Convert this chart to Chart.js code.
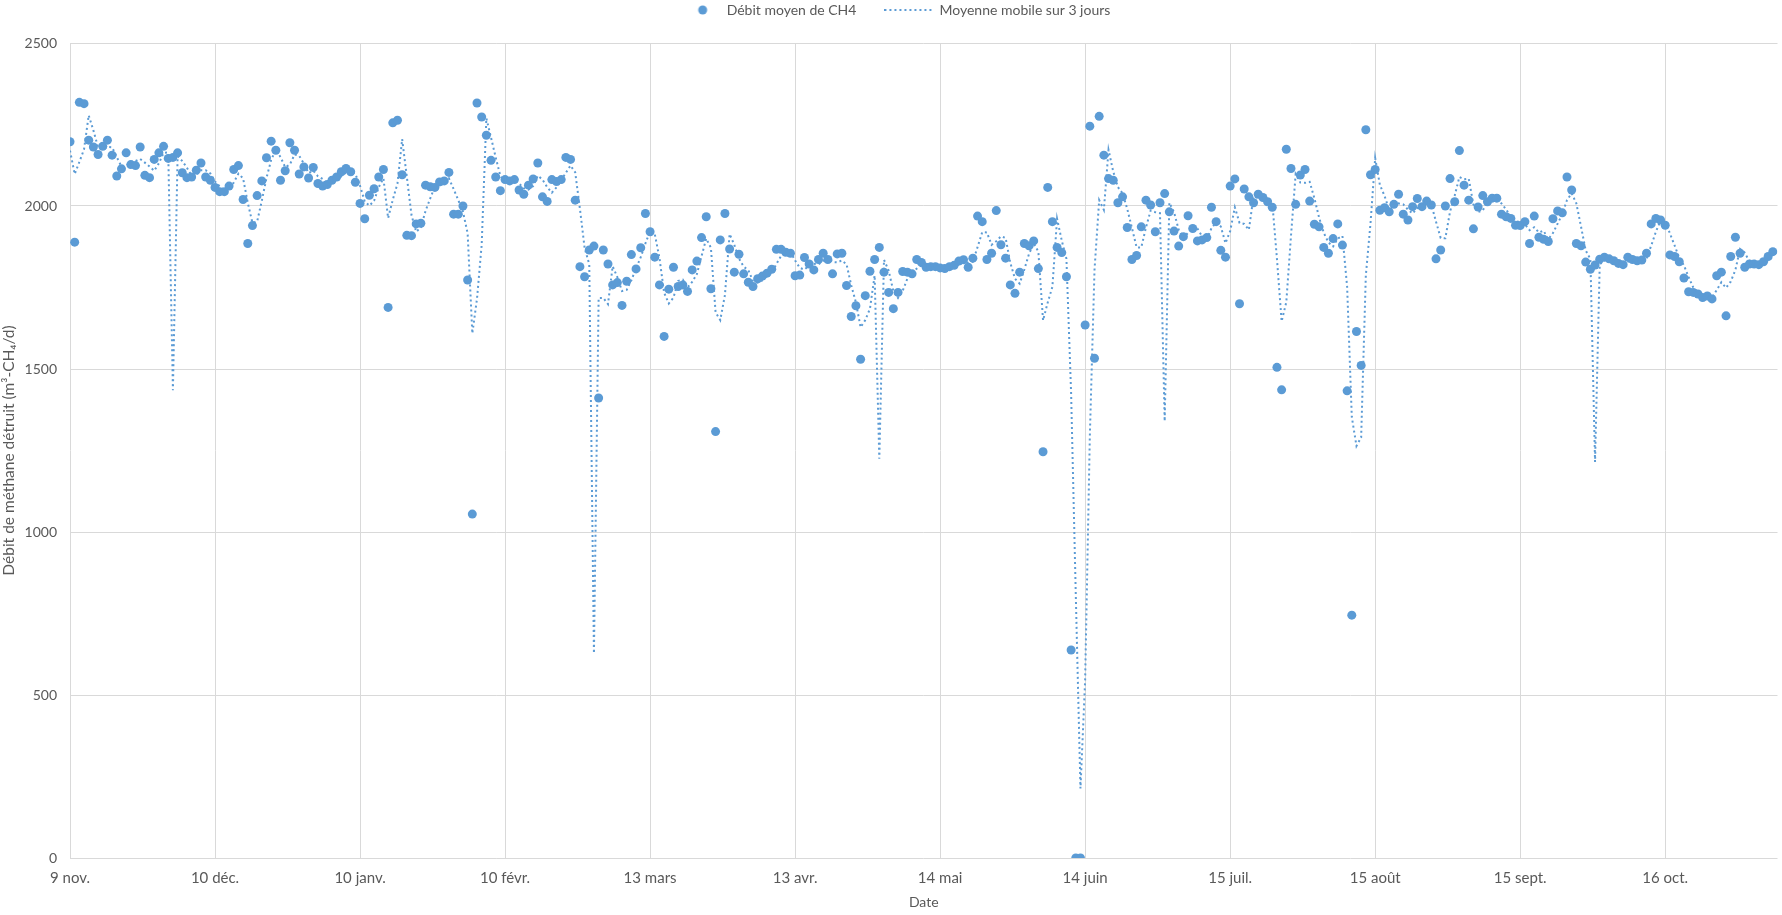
<!DOCTYPE html>
<html>
<head>
<meta charset="utf-8">
<script src="https://cdn.jsdelivr.net/npm/chart.js@4.4.1/dist/chart.umd.min.js"></script>
<style>
html,body{margin:0;padding:0;background:#ffffff;}
canvas{display:block;}
</style>
</head>
<body>
<canvas id="chart" width="1782" height="915"></canvas>
<script>
// ---- Data (one value per day, day 0 = 9 nov.) ----
const tickDays = [0, 31, 62, 93, 124, 155, 186, 217, 248, 279, 310, 341];
const tickLabels = ['9 nov.', '10 déc.', '10 janv.', '10 févr.', '13 mars', '13 avr.', '14 mai', '14 juin', '15 juil.', '15 août', '15 sept.', '16 oct.'];
const seriesLabels = ['Débit moyen de CH4', 'Moyenne mobile sur 3 jours'];

const flowValues = [
  2197,1889,2318,2314,2202,2181,2158,2183,2202,2156,
  2092,2114,2163,2127,2124,2181,2094,2087,2143,2163,
  2183,2146,2149,2163,2102,2087,2089,2110,2132,2089,
  2079,2057,2044,2044,2061,2112,2124,2020,1885,1940,
  2032,2077,2148,2199,2171,2079,2108,2194,2171,2098,
  2120,2086,2118,2069,2061,2066,2079,2089,2105,2115,
  2105,2073,2008,1961,2033,2053,2089,2112,1689,2255,
  2263,2096,1910,1909,1945,1947,2064,2059,2057,2074,
  2077,2103,1975,1975,2000,1773,1055,2316,2273,2217,
  2140,2089,2047,2081,2077,2081,2049,2036,2064,2083,
  2132,2028,2014,2081,2075,2081,2149,2143,2018,1814,
  1783,1865,1877,1411,1865,1822,1758,1765,1695,1769,
  1851,1807,1872,1977,1921,1843,1758,1600,1745,1812,
  1753,1758,1738,1804,1831,1903,1967,1746,1308,1896,
  1977,1868,1797,1852,1792,1766,1753,1777,1785,1794,
  1806,1867,1867,1858,1855,1786,1788,1842,1822,1804,
  1836,1855,1836,1792,1853,1855,1756,1661,1694,1530,
  1725,1800,1836,1873,1797,1735,1685,1735,1799,1797,
  1792,1836,1827,1812,1814,1814,1810,1808,1814,1818,
  1831,1835,1812,1840,1969,1952,1836,1855,1986,1881,
  1840,1758,1732,1797,1885,1878,1893,1808,1246,2057,
  1952,1873,1857,1783,638,0,0,1635,2245,1533,
  2275,2156,2084,2079,2010,2028,1934,1836,1848,1936,
  2018,2003,1921,2010,2038,1982,1923,1877,1906,1970,
  1931,1893,1896,1903,1996,1952,1864,1843,2061,2083,
  1700,2052,2028,2010,2036,2026,2013,1996,1505,1436,
  2174,2115,2005,2095,2112,2015,1944,1936,1873,1855,
  1900,1945,1880,1433,745,1615,1511,2234,2096,2112,
  1987,1995,1982,2005,2036,1975,1957,1998,2023,1998,
  2015,2003,1838,1865,2000,2084,2013,2170,2064,2018,
  1930,1997,2032,2013,2024,2024,1975,1967,1962,1941,
  1940,1952,1885,1969,1904,1898,1891,1961,1985,1979,
  2089,2049,1885,1878,1828,1806,1819,1837,1843,1838,
  1832,1824,1820,1843,1836,1832,1834,1855,1945,1962,
  1957,1941,1850,1845,1829,1779,1737,1735,1730,1719,
  1724,1715,1786,1797,1663,1845,1904,1855,1812,1822,
  1822,1820,1829,1845,1860
];

const movingAverage = [
  2170,2098,2135,2174,2278,2232,2180,2174,2181,2180,
  2150,2121,2123,2135,2138,2144,2133,2121,2108,2131,
  2163,2164,1435,2153,2138,2117,2093,2095,2110,2110,
  2100,2075,2060,2048,2050,2072,2099,2085,2010,1948,
  1952,2016,2086,2141,2173,2150,2119,2127,2158,2154,
  2130,2101,2108,2091,2083,2065,2069,2078,2091,2103,
  2108,2098,2062,2014,2001,2016,2058,2085,1963,2019,
  2069,2205,2090,1972,1921,1934,1985,2023,2060,2063,
  2069,2085,2052,2018,1983,1916,1609,1715,1881,2269,
  2210,2149,2092,2072,2068,2080,2069,2055,2050,2061,
  2093,2081,2058,2041,2057,2079,2102,2124,2103,1992,
  1872,1821,628,1718,1718,1699,1815,1782,1739,1743,
  1772,1809,1843,1885,1923,1914,1841,1734,1701,1719,
  1770,1774,1750,1767,1791,1846,1900,1872,1674,1650,
  1727,1914,1881,1839,1814,1803,1770,1765,1772,1785,
  1795,1822,1847,1864,1860,1833,1810,1805,1817,1823,
  1821,1832,1842,1828,1827,1833,1821,1757,1704,1628,
  1650,1685,1787,1225,1835,1802,1739,1718,1740,1777,
  1796,1808,1818,1825,1818,1813,1813,1811,1811,1813,
  1821,1828,1826,1829,1874,1920,1919,1881,1892,1907,
  1902,1826,1777,1762,1805,1853,1885,1860,1649,1704,
  1752,1961,1894,1838,1426,807,213,545,1293,1804,
  2018,1988,2172,2106,2058,2039,1991,1933,1873,1873,
  1934,1986,1981,1978,1340,2010,1981,1927,1902,1918,
  1936,1931,1907,1897,1932,1950,1937,1886,1923,1996,
  1948,1945,1927,2030,2025,2024,2025,2012,1838,1646,
  1705,1908,2098,2072,2071,2074,2024,1965,1918,1888,
  1876,1900,1908,1753,1353,1264,1290,1787,1947,2147,
  2065,2031,1988,1994,2008,2005,1989,1977,1993,2006,
  2012,2005,1952,1902,1901,1983,2032,2089,2082,2084,
  2004,1982,1986,2014,2023,2020,2008,1989,1968,1957,
  1948,1944,1926,1935,1919,1924,1898,1917,1946,1975,
  2018,2039,2008,1937,1864,1837,1215,1821,1833,1839,
  1838,1831,1825,1829,1833,1837,1834,1840,1878,1921,
  1955,1953,1916,1879,1841,1818,1782,1750,1734,1728,
  1724,1719,1742,1766,1749,1768,1804,1868,1857,1830,
  1819,1821,1824,1831,1845
];

// ---- Styling ----
const SERIES_COLOR = '#5B9BD5';
const TEXT_COLOR = '#595959';
const GRID_COLOR = '#d9d9d9';
const FONT_FAMILY = 'Lato, "DejaVu Sans", sans-serif';

const pointData = flowValues.map((v, i) => ({ x: i, y: v }));
const avgData = movingAverage.map((v, i) => ({ x: i, y: v }));

// legend icons
const dotIcon = document.createElement('canvas');
dotIcon.width = 48; dotIcon.height = 12;
(function () {
  const c = dotIcon.getContext('2d');
  c.fillStyle = SERIES_COLOR;
  c.beginPath(); c.arc(31, 6, 4.5, 0, Math.PI * 2); c.fill();
})();
const dashIcon = document.createElement('canvas');
dashIcon.width = 48; dashIcon.height = 4;
(function () {
  const c = dashIcon.getContext('2d');
  c.strokeStyle = SERIES_COLOR; c.lineWidth = 2; c.setLineDash([2, 3]);
  c.beginPath(); c.moveTo(0, 2); c.lineTo(48, 2); c.stroke();
})();

const legendBand = {
  id: 'legendBand',
  beforeLayout(chart) {
    const lg = chart.legend;
    if (lg && !lg.__patched) {
      const f = lg.fit.bind(lg);
      lg.fit = function () { f(); this.height = 68; };
      lg.__patched = true;
    }
  }
};

new Chart(document.getElementById('chart'), {
  type: 'scatter',
  data: {
    datasets: [
      {
        label: seriesLabels[0],
        data: pointData,
        backgroundColor: SERIES_COLOR,
        borderColor: SERIES_COLOR,
        borderWidth: 0,
        pointRadius: 4.5,
        pointHoverRadius: 4.5,
        order: 1
      },
      {
        type: 'line',
        label: seriesLabels[1],
        data: avgData,
        borderColor: SERIES_COLOR,
        backgroundColor: SERIES_COLOR,
        borderWidth: 2,
        borderDash: [2, 3],
        pointRadius: 0,
        pointHoverRadius: 0,
        fill: false,
        tension: 0,
        order: 0
      }
    ]
  },
  options: {
    responsive: false,
    animation: false,
    devicePixelRatio: 1,
    events: [],
    layout: { padding: { top: -25, left: 0, right: 0, bottom: 0 } },
    plugins: {
      tooltip: { enabled: false },
      legend: {
        display: true,
        position: 'top',
        align: 'center',
        labels: {
          usePointStyle: true,
          pointStyleWidth: 48,
          padding: 28,
          color: TEXT_COLOR,
          font: { family: FONT_FAMILY, size: 14 },
          generateLabels: () => [
            { text: seriesLabels[0], pointStyle: dotIcon, fillStyle: SERIES_COLOR, strokeStyle: SERIES_COLOR, lineWidth: 0, hidden: false, datasetIndex: 0, fontColor: TEXT_COLOR },
            { text: seriesLabels[1], pointStyle: dashIcon, fillStyle: SERIES_COLOR, strokeStyle: SERIES_COLOR, lineWidth: 0, hidden: false, datasetIndex: 1, fontColor: TEXT_COLOR }
          ]
        }
      }
    },
    scales: {
      x: {
        type: 'linear',
        min: 0,
        max: 365,
        afterBuildTicks: (scale) => { scale.ticks = tickDays.map(v => ({ value: v })); },
        afterFit: (scale) => { scale.height = 57; },
        ticks: {
          autoSkip: false,
          maxRotation: 0,
          padding: 11,
          color: TEXT_COLOR,
          font: { family: FONT_FAMILY, size: 15 },
          callback: (value, index) => tickLabels[index]
        },
        grid: { color: GRID_COLOR, lineWidth: 1, drawTicks: false },
        border: { display: false },
        title: {
          display: true,
          text: 'Date',
          color: TEXT_COLOR,
          font: { family: FONT_FAMILY, size: 14 },
          padding: { top: 0, bottom: 4 }
        }
      },
      y: {
        min: 0,
        max: 2500,
        afterFit: (scale) => { scale.width = 70; },
        ticks: {
          stepSize: 500,
          padding: 13,
          color: TEXT_COLOR,
          font: { family: FONT_FAMILY, size: 14 },
          callback: (value) => String(value)
        },
        grid: { color: GRID_COLOR, lineWidth: 1, drawTicks: false },
        border: { display: false },
        title: {
          display: true,
          text: 'Débit de méthane détruit (m³-CH₄/d)',
          color: TEXT_COLOR,
          font: { family: FONT_FAMILY, size: 15.5 },
          padding: { top: 0, bottom: 0 }
        }
      }
    }
  },
  plugins: [legendBand]
});
</script>
</body>
</html>
